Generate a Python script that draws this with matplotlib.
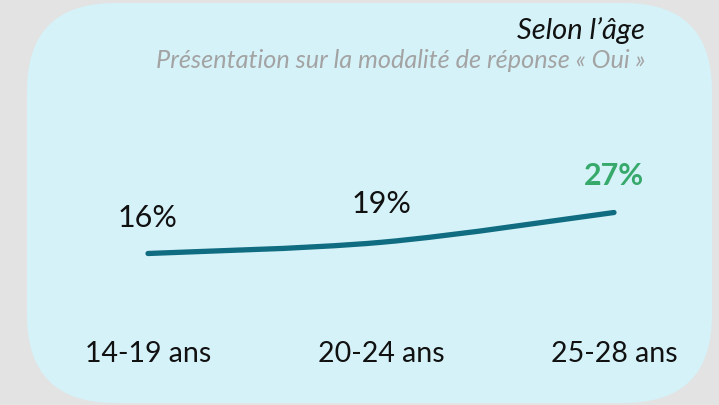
import matplotlib
matplotlib.use("Agg")
import matplotlib.pyplot as plt
import numpy as np
from matplotlib.patches import FancyBboxPatch, PathPatch
from matplotlib.path import Path

# Data
categories = ["14-19 ans", "20-24 ans", "25-28 ans"]
values = [16, 19, 27]
value_labels = ["16%", "19%", "27%"]
title = "Selon l\u2019\u00e2ge"
subtitle = "Pr\u00e9sentation sur la modalit\u00e9 de r\u00e9ponse \u00ab Oui \u00bb"

W, H = 719, 405
fig = plt.figure(figsize=(W / 100, H / 100), dpi=100)
fig.patch.set_facecolor("#e3e3e3")

# Background panel (pixel coordinates)
bg = fig.add_axes([0, 0, 1, 1])
bg.set_xlim(0, W)
bg.set_ylim(H, 0)
bg.axis("off")
panel = FancyBboxPatch((27 + 88, 3 + 88), 685 - 176, 400 - 176,
                       boxstyle="round,pad=88", facecolor="#d5f2f9",
                       edgecolor="none")
bg.add_patch(panel)

font = "Lato"
bg.text(645, 31, title, ha="right", va="center", fontsize=21,
        style="italic", family=font, color="#111111")
bg.text(645, 61, subtitle, ha="right", va="center", fontsize=18.2,
        style="italic", family=font, color="#a3a3a3")

# Data axes: category spacing and value scale
px_per_cat = 233
px_per_unit = 3.727
left_px = 148 - px_per_cat / 2
y0_px = 253.5 + values[0] * px_per_unit  # pixel row of value 0
ymax = 50
ax_h = ymax * px_per_unit
ax = fig.add_axes([left_px / W, (H - y0_px) / H, 3 * px_per_cat / W, ax_h / H])
ax.set_xlim(-0.5, 2.5)
ax.set_ylim(0, ymax)
ax.patch.set_alpha(0)
for s in ax.spines.values():
    s.set_visible(False)
ax.tick_params(length=0)
ax.set_yticks([])
x = np.arange(len(values))
ax.set_xticks(x)
ax.set_xticklabels(categories, fontsize=20.5, family=font, color="#111111")
ax.tick_params(axis="x", pad=20)

# Smoothed line through the points (Catmull-Rom as cubic Bezier)
pts = np.column_stack([x, values]).astype(float)
ext = np.vstack([pts[0], pts, pts[-1]])
verts = [pts[0]]
codes = [Path.MOVETO]
for i in range(len(pts) - 1):
    p0, p1, p2, p3 = ext[i], ext[i + 1], ext[i + 2], ext[i + 3]
    c1 = p1 + (p2 - p0) / 6
    c2 = p2 - (p3 - p1) / 6
    verts += [c1, c2, p2]
    codes += [Path.CURVE4] * 3
path = Path(verts, codes)
ax.add_patch(PathPatch(path, facecolor="none", edgecolor="#106c80",
                       lw=3.8, capstyle="round", joinstyle="round"))

# Value labels
offsets = [9.5, 10.2, 9.9]
for i, (v, lab) in enumerate(zip(values, value_labels)):
    last = i == len(values) - 1
    ax.text(x[i], v + offsets[i], lab,
            ha="center", va="center", fontsize=22, family=font,
            fontweight="bold" if last else "normal",
            color="#37a96b" if last else "#111111")

fig.savefig("out.png", dpi=100, facecolor=fig.get_facecolor())
